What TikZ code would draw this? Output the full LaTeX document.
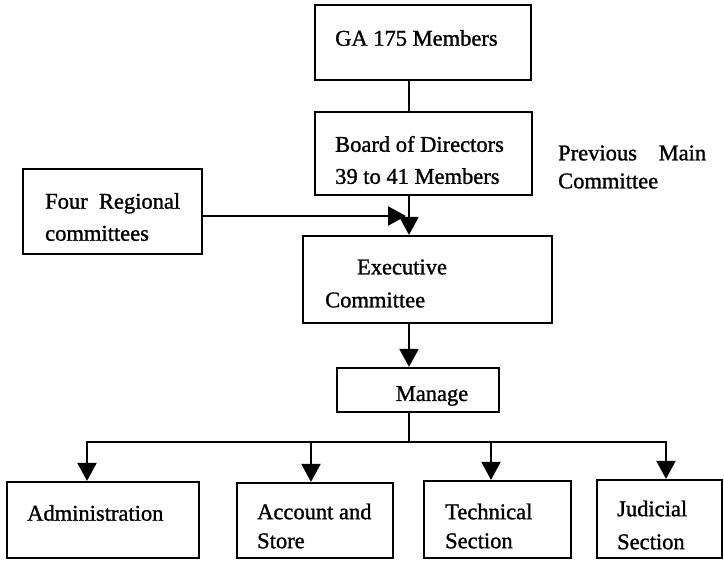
\documentclass[tikz,border=0pt]{standalone}
\usepackage{fontspec}
\setmainfont{Liberation Serif}[BoldFont={Liberation Serif},BoldFeatures={FakeBold=1.2}]
\usetikzlibrary{arrows.meta}
\begin{document}
\begin{tikzpicture}[x=1pt,y=-1pt,
  box/.style={draw, line width=2.2pt, inner sep=0pt},
  lbl/.style={inner sep=0pt, font=\bfseries\fontsize{22.5}{32}\selectfont, align=left},
  link/.style={line width=2.2pt},
  arr/.style={line width=2.2pt, -{Triangle[length=18pt,width=19pt]}}]
\useasboundingbox (0,0) rectangle (724,561);

% boxes
\node[box, minimum width=216pt, minimum height=75pt] (ga)   at (423,42.5)  {};
\node[box, minimum width=217pt, minimum height=83pt] (bod)  at (423.5,153.5) {};
\node[box, minimum width=179pt, minimum height=85pt] (four) at (112.5,211.5) {};
\node[box, minimum width=249pt, minimum height=87pt] (exec) at (427.5,279.5) {};
\node[box, minimum width=162pt, minimum height=44pt] (mgr)  at (418,390)   {};
\node[box, minimum width=192pt, minimum height=76pt] (adm)  at (103,520)   {};
\node[box, minimum width=156pt, minimum height=75pt] (acc)  at (315,520.5) {};
\node[box, minimum width=147pt, minimum height=77pt] (tech) at (497.5,519.5) {};
\node[box, minimum width=125pt, minimum height=78pt] (jud)  at (659.5,519) {};

% labels
\node[lbl, anchor=west] (gaT) at (335,38) {GA 175 Members};
\node[lbl, anchor=west] (bodT) at (335,160) {Board of Directors\\39 to 41 Members};
\node[lbl, anchor=west, text width=148pt, font=\bfseries\fontsize{22.5}{28}\selectfont] (prevT) at (558,167) {Previous\hfill Main\\Committee};
\node[lbl, anchor=west] (fourT) at (45,217) {Four\ \ Regional\\committees};
\node[lbl] (execT1) at (402,267) {Executive};
\node[lbl, anchor=west] (execT2) at (325,300) {Committee};
\node[lbl] (mgrT) at (432,396) {Manage};
\node[lbl, anchor=west] (admT) at (27,513) {Administration};
\node[lbl, anchor=west, font=\bfseries\fontsize{22.5}{29}\selectfont] (accT) at (257,526) {Account and\\Store};
\node[lbl, anchor=west, font=\bfseries\fontsize{22.5}{29}\selectfont] (techT) at (445,526) {Technical\\Section};
\node[lbl, anchor=west, font=\bfseries\fontsize{22.5}{33}\selectfont] (judT) at (617,525) {Judicial\\Section};

% connectors
\coordinate (spine) at (409,0);
\coordinate (meet) at (406,216);
\coordinate (bus) at (409,442);
\coordinate (ca) at (87,0);
\coordinate (cb) at (311,0);
\coordinate (cc) at (491,0);
\coordinate (cd) at (666,0);

\draw[link] (ga.south -| spine) -- (bod.north -| spine);
\draw[arr] (bod.south -| spine) -- (exec.north -| spine);
\draw[arr] (four.east |- meet) -- (meet);
\draw[arr] (exec.south -| spine) -- (mgr.north -| spine);
\draw[link] (mgr.south -| spine) -- (bus);
\draw[arr] (bus) -| (adm.north -| ca);
\draw[arr] (bus) -| (acc.north -| cb);
\draw[arr] (bus) -| (tech.north -| cc);
\draw[arr] (bus) -| (jud.north -| cd);
\end{tikzpicture}
\end{document}
